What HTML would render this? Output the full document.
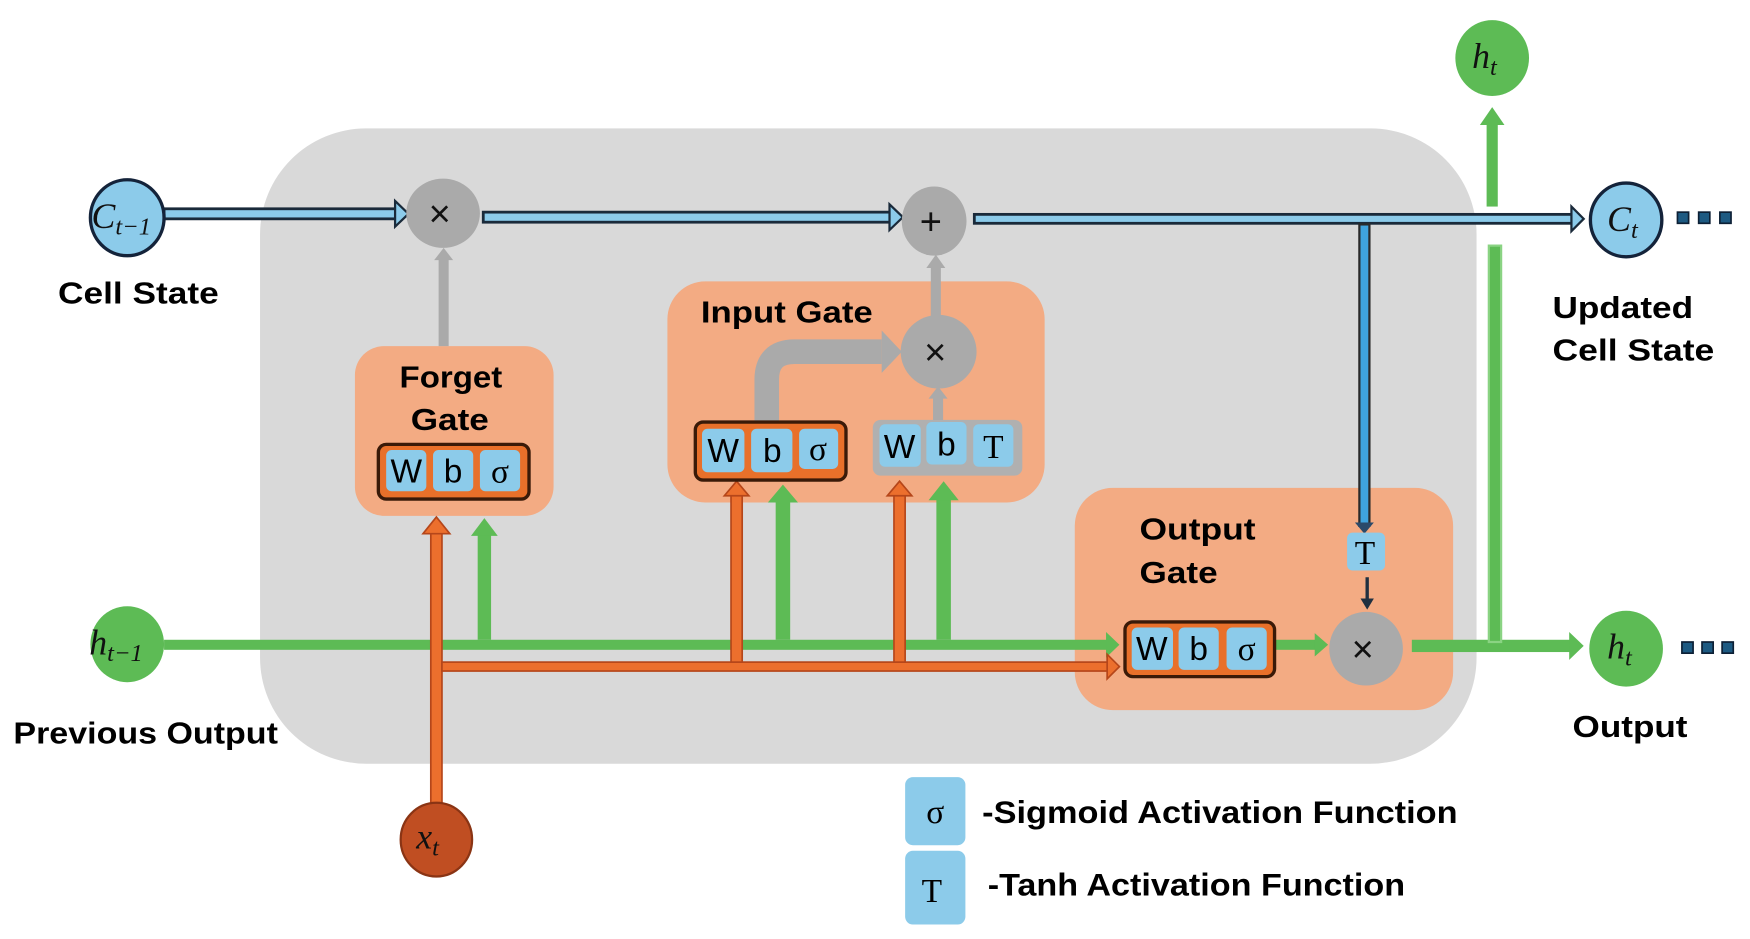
<!DOCTYPE html>
<html><head><meta charset="utf-8"><style>
html,body{margin:0;padding:0;background:#fff;width:1750px;height:939px;overflow:hidden}
svg{display:block}
.b{font-family:"Liberation Sans",sans-serif;font-weight:bold;fill:#000}
.m{font-family:"Liberation Serif",serif;font-style:italic;fill:#111}
.c{font-family:"Liberation Sans",sans-serif;fill:#000;font-size:30px;text-anchor:middle}
.s{font-family:"Liberation Serif",serif;fill:#000;font-size:30px;text-anchor:middle}
.x{font-family:"Liberation Sans",sans-serif;font-size:34px;text-anchor:middle;fill:#111}
</style></head><body>
<svg width="1750" height="939" viewBox="0 0 1568 841" preserveAspectRatio="none">
<rect x="233" y="115" width="1090" height="569" rx="95" fill="#d9d9d9"/>
<rect x="318" y="310" width="178" height="152" rx="26" fill="#f3ab83"/>
<rect x="598" y="252" width="338" height="198" rx="34" fill="#f3ab83"/>
<rect x="963" y="437" width="339" height="199" rx="34" fill="#f3ab83"/>

<g>
<rect x="147" y="187" width="208" height="9" fill="#8ccbea" stroke="#1a2a3a" stroke-width="2.5"/>
<polygon points="354,180 366,191.5 354,203" fill="#8ccbea" stroke="#1a2a3a" stroke-width="2"/>
<rect x="433" y="190" width="365" height="9" fill="#8ccbea" stroke="#1a2a3a" stroke-width="2.5"/>
<polygon points="797,183 809,194.5 797,206" fill="#8ccbea" stroke="#1a2a3a" stroke-width="2"/>
<rect x="873" y="192" width="536" height="8" fill="#8ccbea" stroke="#1a2a3a" stroke-width="2.5"/>
<polygon points="1408,185 1419,196 1408,207" fill="#8ccbea" stroke="#1a2a3a" stroke-width="2"/>
<rect x="1218" y="201" width="9" height="270" fill="#3fa3dd" stroke="#2a2a2a" stroke-width="2"/>
<polygon points="1214,468 1231,468 1222.5,478" fill="#2a4a6a"/>
</g>
<line x1="1225" y1="517" x2="1225" y2="538" stroke="#203040" stroke-width="3"/>
<polygon points="1219,536 1231,536 1225,546" fill="#203040"/>

<rect x="393" y="232" width="9" height="78" fill="#aaa"/>
<polygon points="389,233 397.5,222 406,233" fill="#aaa"/>
<rect x="834" y="238" width="9" height="46" fill="#aaa"/>
<polygon points="830,240 838.5,228 847,240" fill="#aaa"/>
<rect x="836" y="355" width="9" height="22" fill="#aaa"/>
<polygon points="832,357 840.5,346 849,357" fill="#aaa"/>
<path d="M687,378 L687,340 Q687,315 712,315 L790,315" fill="none" stroke="#aaa" stroke-width="22"/>
<polygon points="790,296 808,315 790,334" fill="#aaa"/>

<rect x="147" y="573" width="846" height="9" fill="#5dbb55"/>
<polygon points="991,566 1003,577.5 991,589" fill="#5dbb55"/>
<rect x="428" y="478" width="12" height="95" fill="#5dbb55"/>
<polygon points="422,480 434,464 446,480" fill="#5dbb55"/>
<rect x="695" y="448" width="13" height="125" fill="#5dbb55"/>
<polygon points="688,450 701.5,434 715,450" fill="#5dbb55"/>
<rect x="839" y="446" width="13" height="127" fill="#5dbb55"/>
<polygon points="832,448 845.5,431 859,448" fill="#5dbb55"/>
<rect x="1142" y="573" width="38" height="9" fill="#5dbb55"/>
<polygon points="1178,567 1190,577.5 1178,588" fill="#5dbb55"/>
<rect x="1265" y="573" width="143" height="11" fill="#5dbb55"/>
<polygon points="1406,566 1419,578.5 1406,591" fill="#5dbb55"/>
<rect x="1334" y="220" width="11" height="355" fill="#5dbb55" stroke="#8ad383" stroke-width="2"/>
<rect x="1332" y="110" width="10" height="75" fill="#5dbb55"/>
<polygon points="1326,112 1337,96 1348,112" fill="#5dbb55"/>

<g fill="#ec6f2d" stroke="#b5461a" stroke-width="1.5">
<rect x="386" y="476" width="10" height="247"/>
<polygon points="379,478 391,463 403,478"/>
<rect x="396" y="593" width="597" height="8"/>
<polygon points="992,586 1003,597 992,608"/>
<rect x="655" y="442" width="10" height="151"/>
<polygon points="649,444 660,431 671,444"/>
<rect x="801" y="442" width="10" height="151"/>
<polygon points="795,444 806,431 817,444"/>
</g>

<ellipse cx="114" cy="195" rx="33" ry="34" fill="#8ccbea" stroke="#14233a" stroke-width="3"/>
<text class="m" x="82" y="204" font-size="32">C<tspan font-size="22" dy="6">t−1</tspan></text>
<ellipse cx="1457" cy="197" rx="32" ry="33" fill="#8ccbea" stroke="#14233a" stroke-width="3"/>
<text class="m" x="1440" y="207" font-size="32">C<tspan font-size="22" dy="6">t</tspan></text>
<g fill="#1d5a82" stroke="#0d2035" stroke-width="1.5"><rect x="1503" y="190" width="10" height="10"/><rect x="1522" y="190" width="10" height="10"/><rect x="1541" y="190" width="10" height="10"/></g>
<g fill="#1d5a82" stroke="#0d2035" stroke-width="1.5"><rect x="1507" y="575" width="10" height="10"/><rect x="1525" y="575" width="10" height="10"/><rect x="1543" y="575" width="10" height="10"/></g>
<ellipse cx="1337" cy="52" rx="33" ry="34" fill="#5dbb55"/>
<text class="m" x="1319" y="61" font-size="32">h<tspan font-size="22" dy="6">t</tspan></text>
<ellipse cx="114" cy="577" rx="33" ry="34" fill="#5dbb55"/>
<text class="m" x="80" y="586" font-size="32">h<tspan font-size="22" dy="6">t−1</tspan></text>
<ellipse cx="1457" cy="581" rx="33" ry="34" fill="#5dbb55"/>
<text class="m" x="1440" y="590" font-size="32">h<tspan font-size="22" dy="6">t</tspan></text>
<ellipse cx="391" cy="752" rx="32" ry="33" fill="#c04e22" stroke="#8a3414" stroke-width="2"/>
<text class="m" x="373" y="760" font-size="32">x<tspan font-size="22" dy="6">t</tspan></text>

<ellipse cx="397" cy="191" rx="33" ry="31" fill="#aaa"/>
<text class="x" x="394" y="203">×</text>
<ellipse cx="837" cy="198" rx="29" ry="31" fill="#aaa"/>
<text class="x" x="834" y="210">+</text>
<ellipse cx="841" cy="315" rx="34" ry="33" fill="#aaa"/>
<text class="x" x="838" y="327">×</text>
<ellipse cx="1224" cy="581" rx="33" ry="33" fill="#aaa"/>
<text class="x" x="1221" y="593">×</text>

<g>
<rect x="339" y="398" width="135" height="49" rx="7" fill="#e8702a" stroke="#3a1a08" stroke-width="3"/>
<rect x="346" y="403" width="36" height="37" rx="5" fill="#8ccbea"/><rect x="388" y="403" width="36" height="37" rx="5" fill="#8ccbea"/><rect x="430" y="403" width="36" height="37" rx="5" fill="#8ccbea"/>
<text class="c" x="364" y="432">W</text><text class="c" x="406" y="432">b</text><text class="s" x="448" y="432">σ</text>
</g>
<g>
<rect x="623" y="378" width="135" height="52" rx="7" fill="#e8702a" stroke="#3a1a08" stroke-width="3"/>
<rect x="629" y="384" width="38" height="39" rx="5" fill="#8ccbea"/><rect x="673" y="384" width="37" height="39" rx="5" fill="#8ccbea"/><rect x="716" y="384" width="35" height="36" rx="5" fill="#8ccbea"/>
<text class="c" x="648" y="414">W</text><text class="c" x="692" y="414">b</text><text class="s" x="733" y="412">σ</text>
</g>
<g>
<rect x="782" y="376" width="134" height="50" rx="7" fill="#b0b0b0"/>
<rect x="788" y="380" width="37" height="38" rx="5" fill="#8ccbea"/><rect x="830" y="378" width="36" height="38" rx="5" fill="#8ccbea"/><rect x="872" y="380" width="36" height="38" rx="5" fill="#8ccbea"/>
<text class="c" x="806" y="410">W</text><text class="c" x="848" y="408">b</text><text class="s" x="890" y="410">T</text>
</g>
<g>
<rect x="1008" y="557" width="134" height="49" rx="7" fill="#e8702a" stroke="#3a1a08" stroke-width="3"/>
<rect x="1014" y="562" width="37" height="38" rx="5" fill="#8ccbea"/><rect x="1056" y="562" width="36" height="38" rx="5" fill="#8ccbea"/><rect x="1099" y="562" width="36" height="38" rx="5" fill="#8ccbea"/>
<text class="c" x="1032" y="591">W</text><text class="c" x="1074" y="591">b</text><text class="s" x="1117" y="591">σ</text>
</g>
<rect x="1207" y="477" width="34" height="34" rx="5" fill="#8ccbea"/>
<text class="s" x="1223" y="505">T</text>

<text class="b" x="52" y="272" font-size="27" textLength="144" lengthAdjust="spacingAndGlyphs">Cell State</text>
<text class="b" x="358" y="347" font-size="27" textLength="92" lengthAdjust="spacingAndGlyphs">Forget</text>
<text class="b" x="368" y="385" font-size="27" textLength="70" lengthAdjust="spacingAndGlyphs">Gate</text>
<text class="b" x="628" y="289" font-size="27" textLength="154" lengthAdjust="spacingAndGlyphs">Input Gate</text>
<text class="b" x="1021" y="483" font-size="27" textLength="104" lengthAdjust="spacingAndGlyphs">Output</text>
<text class="b" x="1021" y="522" font-size="27" textLength="70" lengthAdjust="spacingAndGlyphs">Gate</text>
<text class="b" x="1391" y="285" font-size="27" textLength="126" lengthAdjust="spacingAndGlyphs">Updated</text>
<text class="b" x="1391" y="323" font-size="27" textLength="145" lengthAdjust="spacingAndGlyphs">Cell State</text>
<text class="b" x="12" y="666" font-size="27" textLength="237" lengthAdjust="spacingAndGlyphs">Previous Output</text>
<text class="b" x="1409" y="660" font-size="27" textLength="103" lengthAdjust="spacingAndGlyphs">Output</text>

<rect x="811" y="696" width="54" height="61" rx="7" fill="#8ccbea"/>
<text class="s" x="838" y="737">σ</text>
<rect x="811" y="762" width="54" height="66" rx="7" fill="#8ccbea"/>
<text class="s" x="835" y="808">T</text>
<text class="b" x="880" y="737" font-size="28" textLength="426" lengthAdjust="spacingAndGlyphs">-Sigmoid Activation Function</text>
<text class="b" x="885" y="802" font-size="28" textLength="374" lengthAdjust="spacingAndGlyphs">-Tanh Activation Function</text>
</svg>
</body></html>
